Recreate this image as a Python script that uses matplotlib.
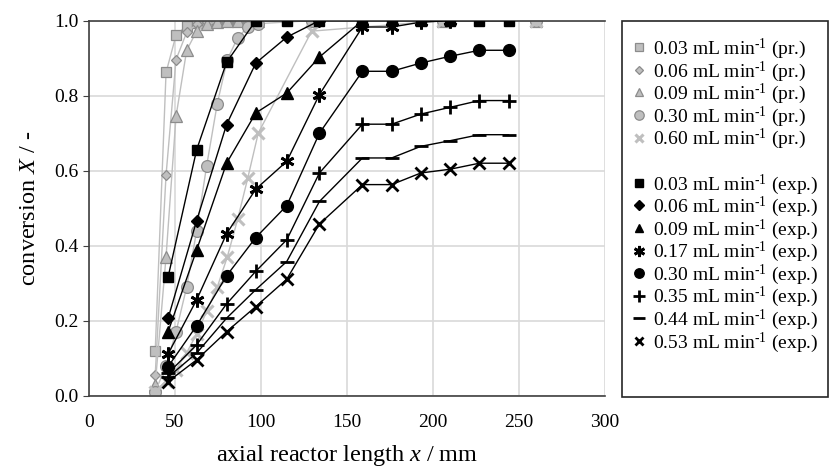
import matplotlib
matplotlib.use("Agg")
import matplotlib.pyplot as plt
from matplotlib.lines import Line2D
from matplotlib.patches import Rectangle

plt.rcParams['font.family'] = ['Liberation Serif', 'DejaVu Serif']
plt.rcParams['mathtext.fontset'] = 'custom'
plt.rcParams['mathtext.rm'] = 'Liberation Serif'
plt.rcParams['mathtext.it'] = 'Liberation Serif:italic'

# predictions (pr.)
x_pr = [38.5, 44.8, 50.6, 56.8, 62.6, 68.4, 74.6, 80.4, 86.4, 92.3, 98.4, 129.5, 206, 260]
pr_003 = [0.12, 0.862, 0.961, 0.987, 0.995, 0.998, 0.999, 1.0, 1.0, 1.0, 1.0, 1.0, 1.0, 1.0]
pr_006 = [0.056, 0.589, 0.896, 0.969, 0.99, 0.997, 0.999, 1.0, 1.0, 1.0, 1.0, 1.0, 1.0, 1.0]
pr_009 = [0.03, 0.371, 0.745, 0.921, 0.972, 0.99, 0.997, 1.0, 1.0, 1.0, 1.0, 1.0, 1.0, 1.0]
pr_030 = [0.011, 0.08, 0.171, 0.29, 0.44, 0.613, 0.779, 0.896, 0.954, 0.983, 0.992, 1.0, 1.0, 1.0]
pr_060 = [0.01, 0.04, 0.07, 0.115, 0.165, 0.225, 0.29, 0.37, 0.47, 0.58, 0.70, 0.972, 1.0, 1.0]

# experiments (exp.)
x_exp = [46, 62.6, 80, 97, 115, 134, 159, 176, 193, 210, 227, 244]
exp_003 = [0.317, 0.656, 0.889, 1.0, 1.0, 1.0, 1.0, 1.0, 1.0, 1.0, 1.0, 1.0]
exp_006 = [0.207, 0.467, 0.723, 0.887, 0.956, 1.0]
exp_009 = [0.171, 0.389, 0.62, 0.754, 0.807, 0.903, 1.0]
exp_017 = [0.112, 0.256, 0.432, 0.551, 0.625, 0.803, 0.983, 0.983, 0.996, 1.0]
exp_030 = [0.078, 0.187, 0.32, 0.422, 0.507, 0.70, 0.865, 0.865, 0.887, 0.905, 0.921, 0.921]
exp_035 = [0.06, 0.136, 0.245, 0.332, 0.416, 0.594, 0.724, 0.724, 0.751, 0.769, 0.787, 0.787]
exp_044 = [0.05, 0.114, 0.207, 0.283, 0.358, 0.518, 0.634, 0.634, 0.665, 0.68, 0.696, 0.696]
exp_053 = [0.038, 0.096, 0.171, 0.238, 0.311, 0.458, 0.563, 0.563, 0.594, 0.604, 0.62, 0.62]

unit = r' mL min$^{\text{-1}}$ '
pr_series = [('0.03', pr_003, 's', 7), ('0.06', pr_006, 'D', 5.5), ('0.09', pr_009, '^', 8),
             ('0.30', pr_030, 'o', 8.5), ('0.60', pr_060, 'x', 8)]
exp_series = [('0.03', exp_003, 's', 7.5), ('0.06', exp_006, 'D', 6), ('0.09', exp_009, '^', 8),
              ('0.17', exp_017, (6, 2, 0), 10), ('0.30', exp_030, 'o', 8.5),
              ('0.35', exp_035, '+', 10), ('0.44', exp_044, '_', 10), ('0.53', exp_053, 'x', 8)]

fig = plt.figure(figsize=(8.32, 4.69), dpi=100)
ax = fig.add_axes([0.107, 0.156, 0.62, 0.8])

gray = '#bfbfbf'
edge = '#8c8c8c'
handles = []
for q, y, m, ms in pr_series:
    if m == 'x':
        kw = dict(marker=m, ms=ms, mew=2.2, mec=gray, mfc=gray)
    else:
        kw = dict(marker=m, ms=ms, mfc=gray, mec=edge, mew=0.9)
    ax.plot(x_pr[:len(y)], y, color=gray, lw=1.0, **kw)
    hkw = dict(kw)
    hkw['ms'] = ms * 0.8
    handles.append(Line2D([], [], ls='None', label=q + unit + '(pr.)', **hkw))

# spacer row between the two groups (text hidden below)
handles.append(Line2D([], [], ls='None', marker='None', label='0.00' + unit + '(pr.)'))

for q, y, m, ms in exp_series:
    mew = 2.0 if m in ('x', '+', '_', (6, 2, 0)) else 1
    ax.plot(x_exp[:len(y)], y, color='black', lw=1.0, marker=m, ms=ms, mew=mew, zorder=3)
    handles.append(Line2D([], [], ls='None', marker=m, ms=ms * 0.8, mew=mew, color='black',
                          label=q + unit + '(exp.)'))

ax.set_xlim(0, 300)
ax.set_ylim(0, 1.0)
ax.set_xticks(range(0, 301, 50))
ax.set_yticks([0, 0.2, 0.4, 0.6, 0.8, 1.0])
ax.set_yticklabels(['0.0', '0.2', '0.4', '0.6', '0.8', '1.0'])
ax.grid(True, color='#d9d9d9', lw=1.2)
ax.set_axisbelow(True)
for s in ['left', 'bottom', 'top']:
    ax.spines[s].set_color('#404040')
    ax.spines[s].set_linewidth(1.2)
ax.spines['right'].set_visible(False)
ax.tick_params(axis='x', length=0, pad=13, labelsize=14)
ax.tick_params(axis='y', length=4, color='#404040', labelsize=14)
ax.set_xlabel('axial reactor length $x$ / mm', fontsize=17.5, labelpad=9)
ax.set_ylabel('conversion $X$ / -', fontsize=17.5, labelpad=10)

fig.patches.append(Rectangle((0.748, 0.154), 0.247, 0.801, transform=fig.transFigure,
                             fill=False, ec='#262626', lw=1.2))
leg = fig.legend(handles=handles, loc='upper left', bbox_to_anchor=(0.752, 0.934),
                 frameon=False, fontsize=14, labelspacing=-0.09, handlelength=0.8,
                 handletextpad=0.3, borderaxespad=0, borderpad=0.3)
leg.get_texts()[5].set_alpha(0)

fig.savefig('out.png', dpi=100)
